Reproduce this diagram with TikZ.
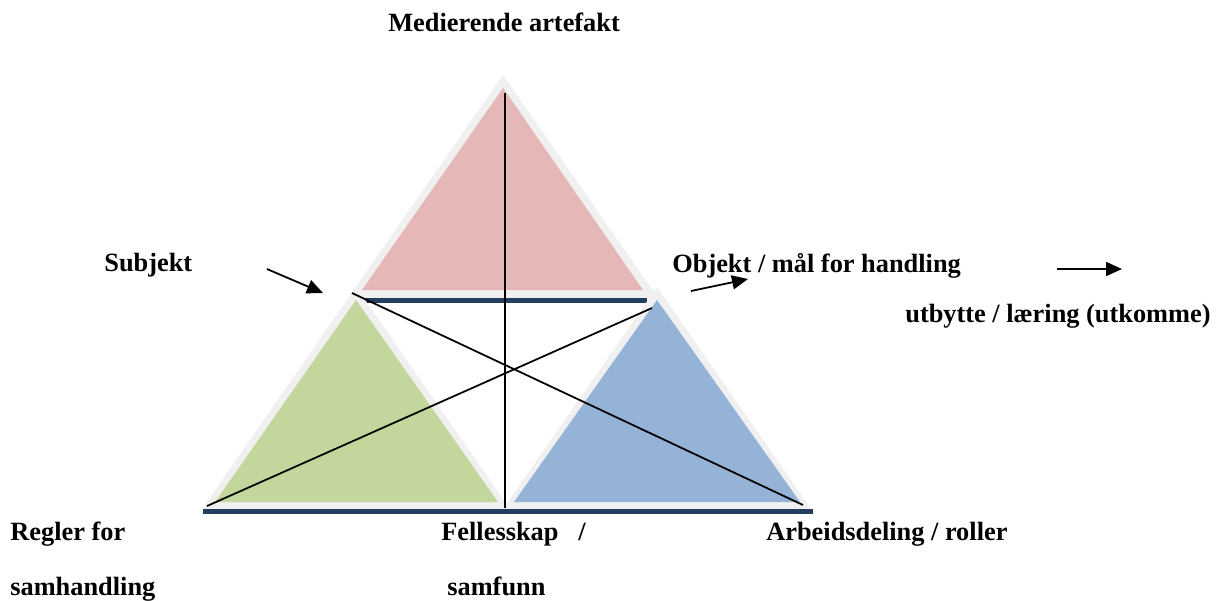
\documentclass[tikz,border=0pt]{standalone}
\usepackage{fontspec}
\setmainfont{Liberation Serif}
\usetikzlibrary{arrows.meta}
\definecolor{edgegray}{RGB}{240,240,240}
\definecolor{toppink}{RGB}{229,183,183}
\definecolor{leftgreen}{RGB}{195,214,155}
\definecolor{rightblue}{RGB}{149,179,215}
\definecolor{barblue}{RGB}{36,62,96}

\tikzset{
  lbl/.style={inner sep=0pt, anchor=base west, font=\bfseries\fontsize{15}{18}\selectfont},
  joinline/.style={line width=1pt, black},
  pointer/.style={line width=1pt, -{Triangle[length=0.32cm,width=0.28cm]}}
}

\begin{document}
\begin{tikzpicture}[x=0.02cm,y=-0.02cm]
\useasboundingbox (0,0) rectangle (1223,600);

% top triangle
\fill[edgegray] (503,75) -- (658,298) -- (348,298) -- cycle;
\fill[toppink] (503,88) -- (643,290) -- (362,290) -- cycle;
\fill[barblue] (358,298) rectangle (647,302.5);

% lower triangles
\fill[edgegray] (356,287) -- (510,509) -- (202,509) -- cycle;
\fill[leftgreen] (356,300) -- (498,502) -- (215,502) -- cycle;
\fill[edgegray] (657,287) -- (811,509) -- (503,509) -- cycle;
\fill[rightblue] (657,300) -- (800,502) -- (514,502) -- cycle;
\fill[barblue] (203,509) rectangle (813,514);

% corners
\coordinate (top) at (505,93);
\coordinate (bottom) at (505,508);
\coordinate (subj) at (352,293);
\coordinate (obj) at (652,308);
\coordinate (rules) at (207,506);
\coordinate (roles) at (803,505);

\draw[joinline] (top) -- (bottom);
\draw[joinline] (subj) -- (roles);
\draw[joinline] (rules) -- (obj);

% labels
\node[lbl] (artefakt) at (388,31) {Medierende artefakt};
\node[lbl] (subjekt) at (104,271) {Subjekt};
\node[lbl] (objekt) at (672,272) {Objekt / mål for handling};
\node[lbl] (utbytte) at (905,322) {utbytte / læring (utkomme)};
\node[lbl] (regler) at (10,540) {Regler for};
\node[lbl] (samhandling) at (10,595) {samhandling};
\node[lbl] (fellesskap) at (441,540) {Fellesskap \ \ /};
\node[lbl] (samfunn) at (447,595) {samfunn};
\node[lbl] (arbeid) at (766,540) {Arbeidsdeling / roller};

% arrows
\coordinate (s1) at (267,269);
\coordinate (s2) at (323,293);
\coordinate (o1) at (691,291);
\coordinate (o2) at (748,279);
\coordinate (u1) at (1057,269);
\coordinate (u2) at (1122,269);
\draw[pointer] (s1) -- (s2);
\draw[pointer] (o1) -- (o2);
\draw[pointer] (u1) -- (u2);
\end{tikzpicture}
\end{document}
